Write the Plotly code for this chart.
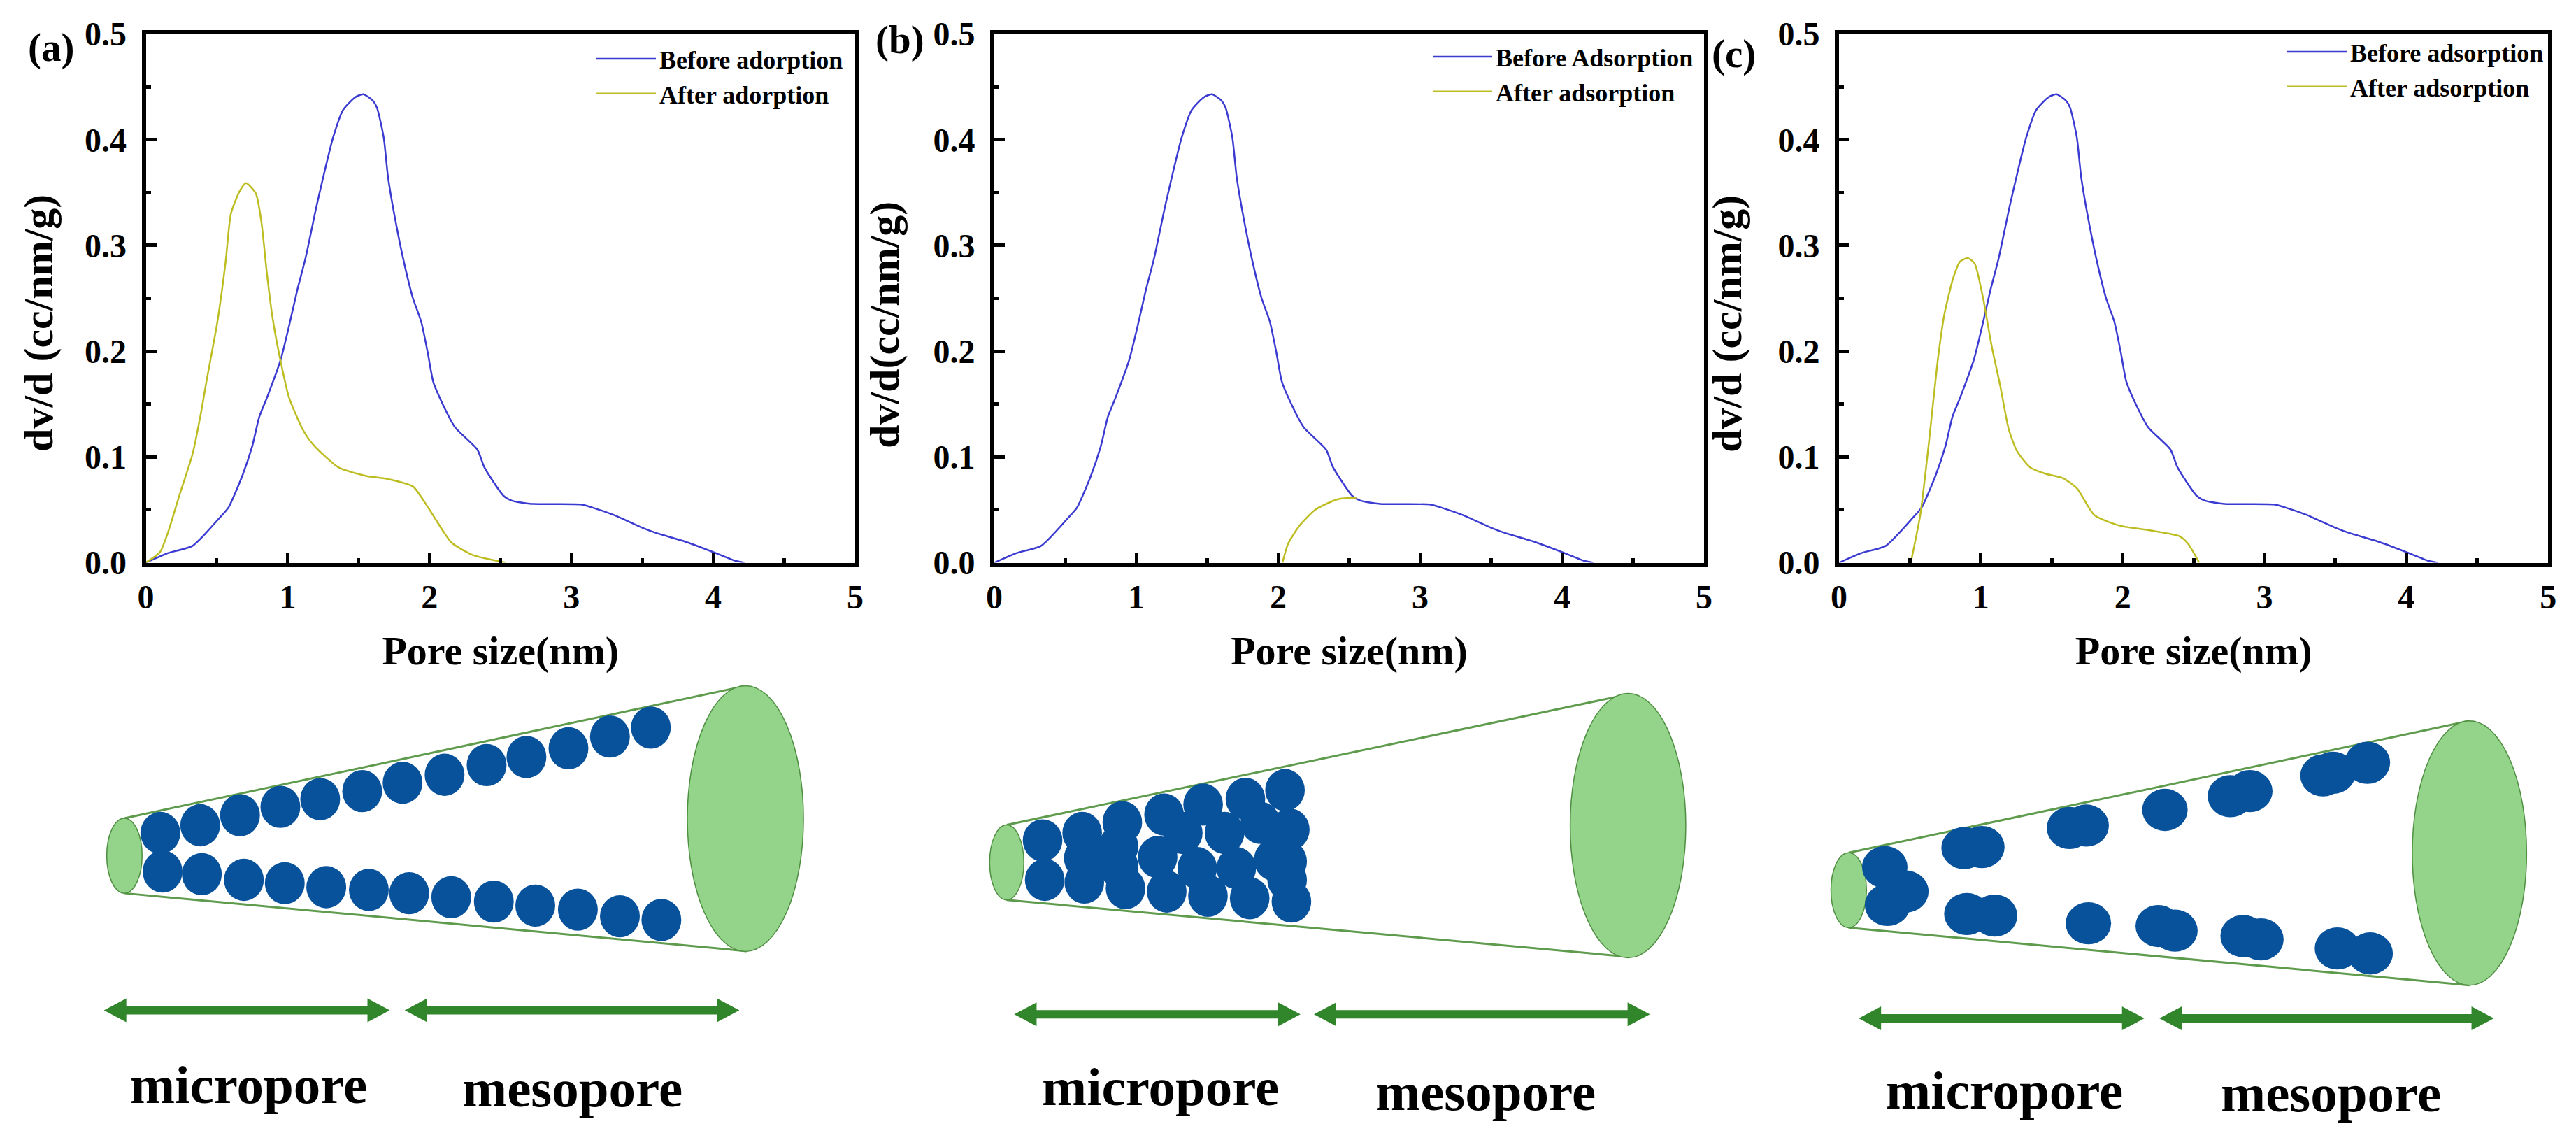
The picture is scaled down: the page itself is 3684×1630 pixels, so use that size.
import plotly.graph_objects as go

W, H = 3684, 1630
FONT = "Liberation Serif"
BLUE = "#3B3BD2"
YELLOW = "#BDBD22"

# ---------- data ----------
before_x = [0, 0.155, 0.33, 0.524, 0.582, 0.68, 0.75, 0.8, 0.854, 0.951, 1.01, 1.068, 1.126, 1.203, 1.262, 1.32,
            1.39, 1.475, 1.533, 1.6, 1.63, 1.677, 1.708, 1.766, 1.825, 1.883, 1.941, 1.988, 2.026, 2.096, 2.18, 2.337,
            2.387, 2.523, 2.58, 2.717, 3.067, 3.15, 3.3, 3.5, 3.6, 3.8, 4.0, 4.15, 4.22]
before_y = [0, 0.009, 0.016, 0.043, 0.052, 0.082, 0.11, 0.138, 0.156, 0.192, 0.224, 0.258, 0.288, 0.337, 0.371, 0.402,
            0.428, 0.44, 0.443, 0.437, 0.43, 0.402, 0.364, 0.319, 0.281, 0.25, 0.228, 0.198, 0.171, 0.149, 0.128, 0.107,
            0.09, 0.063, 0.0586, 0.0556, 0.055, 0.052, 0.045, 0.033, 0.028, 0.02, 0.01, 0.002, 0]

after_a_x = [0, 0.1, 0.155, 0.233, 0.33, 0.388, 0.427, 0.505, 0.563, 0.6, 0.66, 0.706, 0.776, 0.815, 0.854, 0.893,
             0.951, 1.01, 1.106, 1.184, 1.359, 1.553, 1.708, 1.883, 2.0, 2.155, 2.31, 2.54]
after_a_y = [0, 0.01, 0.028, 0.062, 0.103, 0.141, 0.171, 0.228, 0.285, 0.33, 0.351, 0.359, 0.349, 0.322, 0.273, 0.232,
             0.19, 0.156, 0.126, 0.111, 0.09, 0.082, 0.079, 0.072, 0.05, 0.019, 0.007, 0]

after_b_x = [2.03, 2.07, 2.15, 2.26, 2.42, 2.55]
after_b_y = [0, 0.018, 0.035, 0.05, 0.06, 0.0615]

after_c_x = [0.506, 0.574, 0.635, 0.695, 0.743, 0.807, 0.855, 0.908, 0.956, 1.016, 1.076, 1.137, 1.197, 1.257, 1.349,
             1.458, 1.578, 1.679, 1.8, 1.98, 2.22, 2.4, 2.46, 2.54]
after_c_y = [0, 0.046, 0.115, 0.19, 0.235, 0.27, 0.285, 0.288, 0.283, 0.25, 0.205, 0.167, 0.126, 0.105, 0.09, 0.084,
             0.08, 0.07, 0.045, 0.035, 0.03, 0.025, 0.018, 0]

x_ticks = [0, 1, 2, 3, 4, 5]
y_ticks = [0.0, 0.1, 0.2, 0.3, 0.4, 0.5]
y_tick_labels = ["0.0", "0.1", "0.2", "0.3", "0.4", "0.5"]
panel_labels = ["(a)", "(b)", "(c)"]
y_titles = ["dv/d (cc/nm/g)", "dv/d(cc/nm/g)", "dv/d (cc/nm/g)"]
x_title = "Pore size(nm)"
before_names = ["Before adorption", "Before Adsorption", "Before adsorption"]
after_names = ["After adorption", "After adsorption", "After adsorption"]

# ---------- schematic (full-picture pixel layout) ----------
particles_a = [(290,650),(362,627),(434,597),(507,572),(579,549),(655,525),(728,500),(804,476),(880,447),(952,423),
               (1028,397),(1103,362),(1177,335),(294,765),(365,773),(441,790),(515,800),(590,812),(667,820),(740,830),
               (816,842),(893,855),(968,867),(1045,879),(1121,899),(1196,910)]
particles_b = [(328,672),(332,790),(402,650),(406,798),(477,618),(483,815),(555,595),(560,825),(628,565),(637,838),
               (707,548),(715,845),(781,522),(793,855),(405,725),(470,690),(470,750),(543,722),(590,650),(617,755),
               (668,650),(690,755),(735,620),(760,730),(790,640),(785,735),(785,790)]
particles_c = [(322,752),(360,825),(327,865),(465,695),(497,692),(655,635),(685,628),(827,581),(945,540),(980,525),
               (1112,478),(1130,470),(1192,440),(470,892),(520,897),(689,920),(815,928),(845,942),(968,958),(1000,968),
               (1138,995),(1197,1010)]

cones = [
    dict(sx=1.2645, ox=0, small=(225, 718), big=(1348, 607), brx=105, bry=397, top=(225, 606, 1350, 210),
         bot=(225, 830, 1350, 1003), pts=particles_a, prx=36, a1=(188, 705), a2=(732, 1337), ay=1180),
    dict(sx=1.3067, ox=1240, small=(261, 738), big=(1422, 628), brx=108, bry=395, top=(261, 626, 1422, 236),
         bot=(261, 850, 1422, 1020), pts=particles_b, prx=37, a1=(275, 810), a2=(835, 1463), ay=1192),
    dict(sx=1.2605, ox=2440, small=(257, 821), big=(1376, 710), brx=103, bry=395, top=(257, 709, 1376, 315),
         bot=(257, 933, 1376, 1105), pts=particles_c, prx=41, a1=(275, 790), a2=(817, 1420), ay=1204),
]
SY, OY = 2.09, 880


def fx(px):
    return px / W


def fy(py):
    return 1 - py / H


shapes = []


def ellipse(cx, cy, rx, ry, fill, line, lw):
    shapes.append(dict(type="circle", xref="paper", yref="paper", x0=fx(cx - rx), x1=fx(cx + rx), y0=fy(cy + ry),
                       y1=fy(cy - ry), fillcolor=fill, line=dict(color=line, width=lw)))


def arrow(x0, x1, y):
    head, hh, sh = 32, 17, 6
    p = [(x0, y), (x0 + head, y - hh), (x0 + head, y - sh), (x1 - head, y - sh), (x1 - head, y - hh), (x1, y),
         (x1 - head, y + hh), (x1 - head, y + sh), (x0 + head, y + sh), (x0 + head, y + hh)]
    path = "M " + " L ".join(f"{fx(a):.5f},{fy(b):.5f}" for a, b in p) + " Z"
    shapes.append(dict(type="path", xref="paper", yref="paper", path=path, fillcolor="#31852A", line=dict(width=0)))


for c in cones:
    X = lambda v: v / c["sx"] + c["ox"]
    Y = lambda v: v / SY + OY
    for seg in (c["top"], c["bot"]):
        shapes.append(dict(type="line", xref="paper", yref="paper", x0=fx(X(seg[0])), y0=fy(Y(seg[1])),
                           x1=fx(X(seg[2])), y1=fy(Y(seg[3])), line=dict(color="#5E9B4C", width=3)))
    ellipse(X(c["small"][0]), Y(c["small"][1]), 32 / c["sx"], 112 / SY, "#93D38A", "#4F8F42", 1.5)
    ellipse(X(c["big"][0]), Y(c["big"][1]), c["brx"] / c["sx"], c["bry"] / SY, "#93D38A", "#4F8F42", 1.5)
    for (px, py) in c["pts"]:
        ellipse(X(px), Y(py), c["prx"] / c["sx"], 63 / SY, "#08529C", "#08529C", 0)
    arrow(X(c["a1"][0]), X(c["a1"][1]), Y(c["ay"]))
    arrow(X(c["a2"][0]), X(c["a2"][1]), Y(c["ay"]))

# ---------- axes ----------
PLOT_X = [(208.5, 1223), (1422, 2437), (2630, 3644.2)]
PLOT_TOP, PLOT_BOT = 48.5, 804.5

fig = go.Figure()
series = [(after_a_x, after_a_y), (after_b_x, after_b_y), (after_c_x, after_c_y)]
for i in range(3):
    sfx = "" if i == 0 else str(i + 1)
    leg = "legend" + sfx
    curve = dict(width=2.5, shape="spline", smoothing=0.6)
    fig.add_trace(go.Scatter(x=before_x, y=before_y, mode="lines", name=before_names[i], legend=leg,
                             xaxis="x" + sfx, yaxis="y" + sfx, line=dict(color=BLUE, **curve)))
    fig.add_trace(go.Scatter(x=series[i][0], y=series[i][1], mode="lines", name=after_names[i], legend=leg,
                             xaxis="x" + sfx, yaxis="y" + sfx, line=dict(color=YELLOW, **curve)))

layout = dict(width=W, height=H, margin=dict(l=0, r=0, t=0, b=0), paper_bgcolor="white", plot_bgcolor="white",
              font=dict(family=FONT, color="black"), shapes=shapes, showlegend=True)

for i in range(3):
    sfx = "" if i == 0 else str(i + 1)
    x0, x1 = PLOT_X[i]
    layout["xaxis" + sfx] = dict(
        domain=[fx(x0), fx(x1)], range=[0, 5], anchor="y" + sfx, tickmode="array", tickvals=x_ticks,
        ticktext=[str(t) for t in x_ticks], ticks="inside", ticklen=15, tickwidth=4.5, tickcolor="black",
        minor=dict(dtick=0.5, tick0=0, ticks="inside", ticklen=7, tickwidth=4.5, tickcolor="black"),
        showgrid=False, zeroline=False, showline=True, linecolor="black", linewidth=6, mirror=True,
        automargin=False, ticklabelstandoff=2,
        tickfont=dict(family=FONT, size=48, color="black", weight="bold"),
        title=dict(text=x_title, standoff=32, font=dict(family=FONT, size=58, color="black", weight="bold")))
    layout["yaxis" + sfx] = dict(
        domain=[fy(PLOT_BOT), fy(PLOT_TOP)], range=[0, 0.5], anchor="x" + sfx, tickmode="array", tickvals=y_ticks,
        ticktext=y_tick_labels, ticks="inside", ticklen=15, tickwidth=4.5, tickcolor="black",
        minor=dict(dtick=0.05, tick0=0, ticks="inside", ticklen=7, tickwidth=4.5, tickcolor="black"),
        showgrid=False, zeroline=False, showline=True, linecolor="black", linewidth=6, mirror=True,
        automargin=False, ticklabelstandoff=12,
        tickfont=dict(family=FONT, size=48, color="black", weight="bold"))

leg_pos = [(854, 86), (2050, 83), (3272, 76)]
for i, (lx, ly) in enumerate(leg_pos):
    key = "legend" if i == 0 else f"legend{i + 1}"
    layout[key] = dict(x=fx(lx - 6), y=fy(ly - 32), xanchor="left", yanchor="top", bgcolor="rgba(0,0,0,0)",
                       borderwidth=0, itemwidth=85, tracegroupgap=0,
                       font=dict(family=FONT, size=36, color="black", weight="bold"))

ann = []


def text(t, px, py, size, angle=0):
    ann.append(dict(text=t, x=fx(px), y=fy(py), xref="paper", yref="paper", xanchor="center", yanchor="middle",
                    showarrow=False, textangle=angle, font=dict(family=FONT, size=size, color="black", weight="bold")))


for t, (px, py) in zip(panel_labels, [(73, 68), (1287, 57), (2479, 77)]):
    text(t, px, py, 57)
for t, (px, py) in zip(y_titles, [(55, 462), (1265, 465), (2470, 463)]):
    text(t, px, py, 60, -90)
for t, (px, py) in zip(["micropore", "mesopore"] * 3,
                       [(355, 1551), (818, 1556), (1659, 1554), (2124, 1561), (2866, 1559), (3333, 1563)]):
    text(t, px, py, 77)
layout["annotations"] = ann

fig.update_layout(**layout)
fig.write_html("out.html", config={"displayModeBar": False}, post_script="document.body.style.margin='0';")
